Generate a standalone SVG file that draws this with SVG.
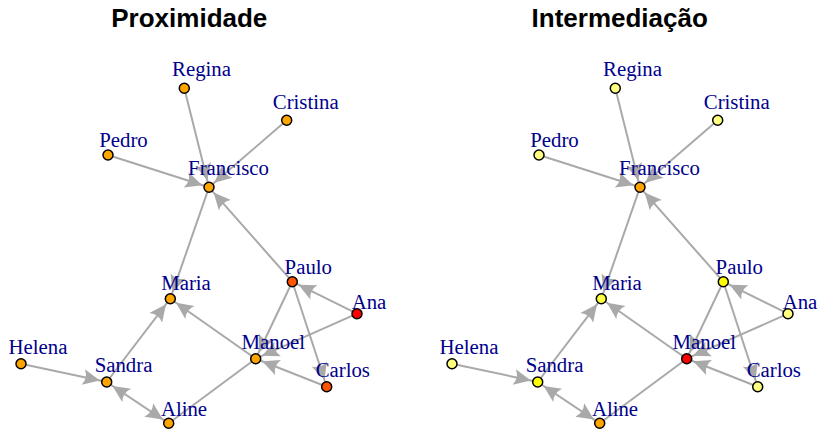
<svg xmlns="http://www.w3.org/2000/svg" width="819" height="433" viewBox="0 0 819 433">
<style>
.title{font-family:"Liberation Sans",Arial,sans-serif;font-weight:bold;font-size:26px;fill:#000;text-anchor:middle}
.lbl{font-family:"Liberation Serif","Times New Roman",serif;font-size:20.8px;fill:#00008B;text-anchor:middle}
.e{stroke:#A9A9A9;stroke-width:2;fill:none}
.a{marker-end:url(#arr)}
.b{marker-start:url(#arr);marker-end:url(#arr)}
.n{stroke:#000;stroke-width:1.5}
</style>
<defs>
<marker id="arr" markerUnits="userSpaceOnUse" viewBox="0 0 30 20" markerWidth="30" markerHeight="20" refX="24" refY="10" orient="auto-start-reverse" overflow="visible">
<path d="M17,10 L0,2 Q5,10 0,18 Z" fill="#A9A9A9"/>
</marker>
</defs>
<rect width="819" height="433" fill="#fff"/>
<text class="title" x="189.3" y="27">Proximidade</text>
<text class="title" x="619.7" y="27">Intermediação</text>

<g id="panel-proximidade">
<g id="p-connectors">
<line class="e a" x1="184.3" y1="88.3" x2="209" y2="187.3"/>
<line class="e a" x1="286.7" y1="120.3" x2="209" y2="187.3"/>
<line class="e a" x1="108" y1="155" x2="209" y2="187.3"/>
<line class="e a" x1="292.3" y1="281.7" x2="209" y2="187.3"/>
<line class="e a" x1="209" y1="187.3" x2="170.3" y2="298.7"/>
<line class="e a" x1="106.7" y1="382" x2="170.3" y2="298.7"/>
<line class="e a" x1="255.7" y1="358.7" x2="170.3" y2="298.7"/>
<line class="e a" x1="357" y1="313.7" x2="292.3" y2="281.7"/>
<line class="e a" x1="292.3" y1="281.7" x2="255.7" y2="358.7"/>
<line class="e a" x1="292.3" y1="281.7" x2="326.7" y2="386.7"/>
<line class="e a" x1="357" y1="313.7" x2="255.7" y2="358.7"/>
<line class="e a" x1="326.7" y1="386.7" x2="255.7" y2="358.7"/>
<line class="e a" x1="21" y1="363.7" x2="106.7" y2="382"/>
<line class="e b" x1="106.7" y1="382" x2="168.7" y2="423.3"/>
<line class="e" x1="168.7" y1="423.3" x2="255.7" y2="358.7"/>
</g>
<g id="p-regina"><circle class="n" cx="184.3" cy="88.3" r="5" fill="#FFA500"/><text class="lbl" x="201.5" y="76">Regina</text></g>
<g id="p-cristina"><circle class="n" cx="286.7" cy="120.3" r="5" fill="#FFA500"/><text class="lbl" x="305.7" y="109">Cristina</text></g>
<g id="p-pedro"><circle class="n" cx="108" cy="155" r="5" fill="#FFA500"/><text class="lbl" x="123.5" y="147">Pedro</text></g>
<g id="p-francisco"><circle class="n" cx="209" cy="187.3" r="5" fill="#FFA500"/><text class="lbl" x="228.5" y="175">Francisco</text></g>
<g id="p-paulo"><circle class="n" cx="292.3" cy="281.7" r="5" fill="#FF5500"/><text class="lbl" x="308.3" y="274">Paulo</text></g>
<g id="p-maria"><circle class="n" cx="170.3" cy="298.7" r="5" fill="#FFA500"/><text class="lbl" x="186" y="290">Maria</text></g>
<g id="p-ana"><circle class="n" cx="357" cy="313.7" r="5" fill="#FF0000"/><text class="lbl" x="369" y="309.3">Ana</text></g>
<g id="p-manoel"><circle class="n" cx="255.7" cy="358.7" r="5" fill="#FFA500"/><text class="lbl" x="273.3" y="348.7">Manoel</text></g>
<g id="p-helena"><circle class="n" cx="21" cy="363.7" r="5" fill="#FFA500"/><text class="lbl" x="38" y="354">Helena</text></g>
<g id="p-sandra"><circle class="n" cx="106.7" cy="382" r="5" fill="#FFA500"/><text class="lbl" x="123.5" y="372">Sandra</text></g>
<g id="p-carlos"><circle class="n" cx="326.7" cy="386.7" r="5" fill="#FF5500"/><text class="lbl" x="342.8" y="377.3">Carlos</text></g>
<g id="p-aline"><circle class="n" cx="168.7" cy="423.3" r="5" fill="#FFA500"/><text class="lbl" x="184" y="416">Aline</text></g>
</g>

<g id="panel-intermediacao" transform="translate(431,0)">
<g id="i-connectors">
<line class="e a" x1="184.3" y1="88.3" x2="209" y2="187.3"/>
<line class="e a" x1="286.7" y1="120.3" x2="209" y2="187.3"/>
<line class="e a" x1="108" y1="155" x2="209" y2="187.3"/>
<line class="e a" x1="292.3" y1="281.7" x2="209" y2="187.3"/>
<line class="e a" x1="209" y1="187.3" x2="170.3" y2="298.7"/>
<line class="e a" x1="106.7" y1="382" x2="170.3" y2="298.7"/>
<line class="e a" x1="255.7" y1="358.7" x2="170.3" y2="298.7"/>
<line class="e a" x1="357" y1="313.7" x2="292.3" y2="281.7"/>
<line class="e a" x1="292.3" y1="281.7" x2="255.7" y2="358.7"/>
<line class="e a" x1="292.3" y1="281.7" x2="326.7" y2="386.7"/>
<line class="e a" x1="357" y1="313.7" x2="255.7" y2="358.7"/>
<line class="e a" x1="326.7" y1="386.7" x2="255.7" y2="358.7"/>
<line class="e a" x1="21" y1="363.7" x2="106.7" y2="382"/>
<line class="e b" x1="106.7" y1="382" x2="168.7" y2="423.3"/>
<line class="e" x1="168.7" y1="423.3" x2="255.7" y2="358.7"/>
</g>
<g id="i-regina"><circle class="n" cx="184.3" cy="88.3" r="5" fill="#FFFF80"/><text class="lbl" x="201.5" y="76">Regina</text></g>
<g id="i-cristina"><circle class="n" cx="286.7" cy="120.3" r="5" fill="#FFFF80"/><text class="lbl" x="305.7" y="109">Cristina</text></g>
<g id="i-pedro"><circle class="n" cx="108" cy="155" r="5" fill="#FFFF80"/><text class="lbl" x="123.5" y="147">Pedro</text></g>
<g id="i-francisco"><circle class="n" cx="209" cy="187.3" r="5" fill="#FFA500"/><text class="lbl" x="228.5" y="175">Francisco</text></g>
<g id="i-paulo"><circle class="n" cx="292.3" cy="281.7" r="5" fill="#FFFF00"/><text class="lbl" x="308.3" y="274">Paulo</text></g>
<g id="i-maria"><circle class="n" cx="170.3" cy="298.7" r="5" fill="#FFFF40"/><text class="lbl" x="186" y="290">Maria</text></g>
<g id="i-ana"><circle class="n" cx="357" cy="313.7" r="5" fill="#FFFF80"/><text class="lbl" x="369" y="309.3">Ana</text></g>
<g id="i-manoel"><circle class="n" cx="255.7" cy="358.7" r="5" fill="#FF0000"/><text class="lbl" x="273.3" y="348.7">Manoel</text></g>
<g id="i-helena"><circle class="n" cx="21" cy="363.7" r="5" fill="#FFFF80"/><text class="lbl" x="38" y="354">Helena</text></g>
<g id="i-sandra"><circle class="n" cx="106.7" cy="382" r="5" fill="#FFFF00"/><text class="lbl" x="123.5" y="372">Sandra</text></g>
<g id="i-carlos"><circle class="n" cx="326.7" cy="386.7" r="5" fill="#FFFF80"/><text class="lbl" x="342.8" y="377.3">Carlos</text></g>
<g id="i-aline"><circle class="n" cx="168.7" cy="423.3" r="5" fill="#FFA500"/><text class="lbl" x="184" y="416">Aline</text></g>
</g>
</svg>
